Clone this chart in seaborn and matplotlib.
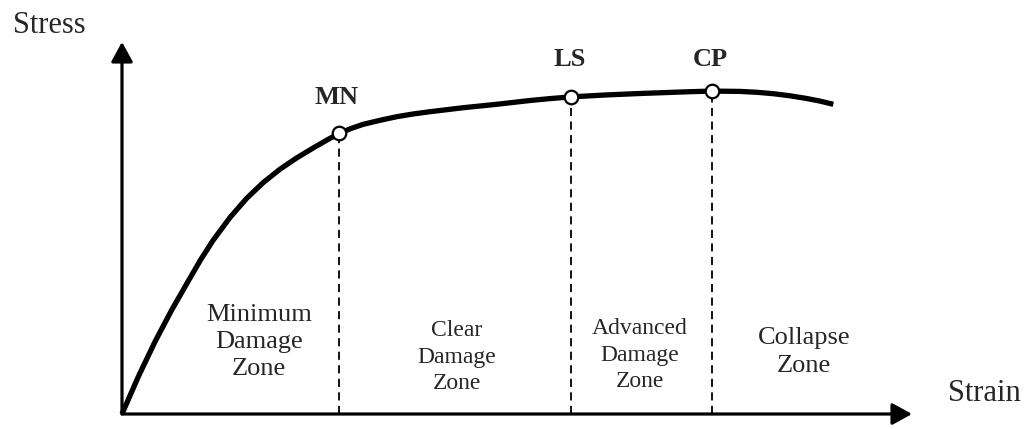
import matplotlib
matplotlib.use("Agg")
import matplotlib.pyplot as plt
import seaborn as sns
import pandas as pd

# Stress-strain curve (arbitrary units)
strain = [0, 0.163, 0.33, 0.497, 0.663, 0.788, 0.913, 1.08, 1.247, 1.413, 1.58, 1.747,
          1.913, 2.043, 2.173, 2.29, 2.413, 2.58, 2.747, 2.91, 3.08, 3.413, 3.747, 4.08,
          4.28, 4.487, 4.83, 5.18, 5.43, 5.68, 5.897, 6.18, 6.35, 6.513, 6.68, 6.847,
          6.98, 7.113]
stress = [0, 0.373, 0.723, 1.04, 1.33, 1.545, 1.74, 1.965, 2.157, 2.315, 2.448, 2.561,
          2.661, 2.736, 2.807, 2.855, 2.897, 2.937, 2.973, 3.0, 3.023, 3.063, 3.097, 3.135,
          3.154, 3.171, 3.19, 3.205, 3.214, 3.223, 3.229, 3.226, 3.217, 3.203, 3.182, 3.155,
          3.129, 3.097]

# Performance levels
level_names = ['MN', 'LS', 'CP']
level_strain = [2.173, 4.487, 5.897]
level_stress = [2.807, 3.171, 3.229]

# Damage zones
zone_labels = ['Minimum\nDamage\nZone', 'Clear\nDamage\nZone', 'Advanced\nDamage\nZone', 'Collapse\nZone']

curve = pd.DataFrame({'Strain': strain, 'Stress': stress})
levels = pd.DataFrame({'Level': level_names, 'Strain': level_strain, 'Stress': level_stress})

sns.set_style('white')
plt.rcParams['font.family'] = ['Liberation Serif', 'DejaVu Serif']

fig = plt.figure(figsize=(10.34, 4.29), dpi=100)
ax = fig.add_axes([0, 0, 1, 1])
ax.set_xlim(-1.22, 9.12)
ax.set_ylim(-0.15, 4.14)
ax.axis('off')

# axes with arrows
arrow = dict(arrowstyle='-|>,head_length=0.4,head_width=0.22', mutation_scale=30,
             lw=2.3, color='black', shrinkA=0, shrinkB=0)
ax.annotate('', xy=(7.90, 0), xytext=(0, 0), arrowprops=arrow)
ax.annotate('', xy=(0, 3.72), xytext=(0, 0), arrowprops=arrow)

# dashed drop lines from each level to the strain axis
ax.vlines(levels['Strain'], 0, levels['Stress'] - 0.07, colors='black',
          linestyles=(0, (4.5, 3)), lw=1.3, zorder=1)

sns.lineplot(data=curve, x='Strain', y='Stress', ax=ax, color='black', lw=3.8,
             sort=False, estimator=None, zorder=2, solid_joinstyle='round',
             solid_capstyle='butt')
sns.scatterplot(data=levels, x='Strain', y='Stress', ax=ax, s=95, color='white',
                edgecolor='black', linewidth=1.6, zorder=3)

# level labels
label_pos = [(2.15, 3.10), (4.48, 3.48), (5.88, 3.48)]
for name, (lx, ly) in zip(level_names, label_pos):
    ax.text(lx, ly, name, ha='center', va='baseline', fontsize=19, fontweight='bold')

# zone labels
zone_pos = [(1.37, 0.72), (3.35, 0.57), (5.18, 0.59), (6.82, 0.62)]
zone_size = [19, 17, 17, 19]
for lab, (zx, zy), fs in zip(zone_labels, zone_pos, zone_size):
    ax.text(zx, zy, lab, ha='center', va='center', fontsize=fs, linespacing=1.32)

ax.text(-1.09, 3.81, 'Stress', ha='left', va='baseline', fontsize=22)
ax.text(8.26, 0.13, 'Strain', ha='left', va='baseline', fontsize=22)

ax.set_xlabel('')
ax.set_ylabel('')
fig.savefig('out.png', dpi=100)
